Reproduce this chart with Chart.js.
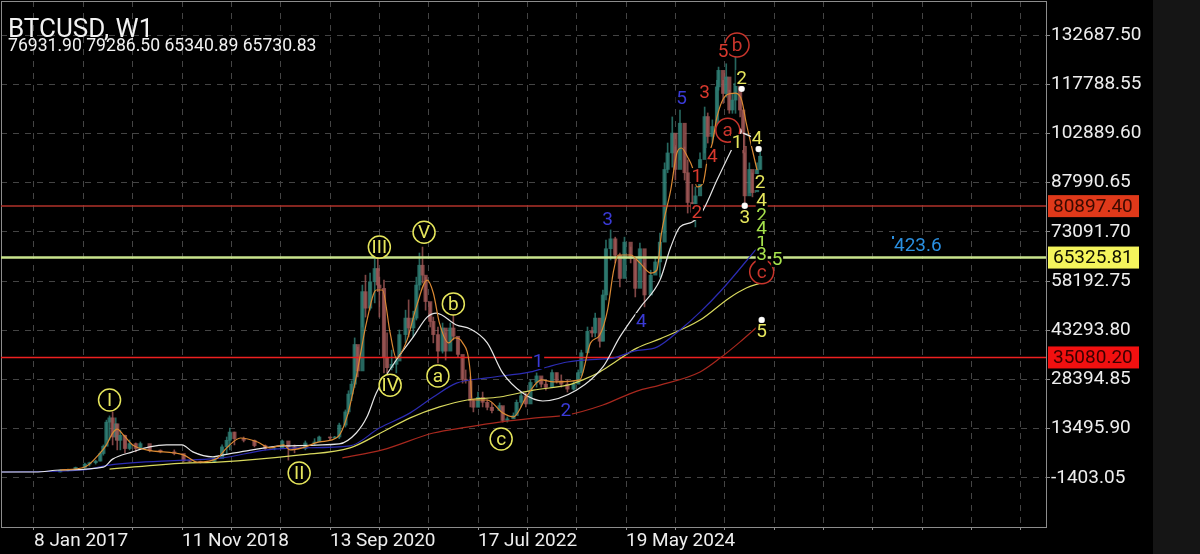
<!DOCTYPE html>
<html>
<head>
<meta charset="utf-8">
<title>BTCUSD, W1</title>
<script src="https://cdn.jsdelivr.net/npm/chart.js@4"></script>
<style>
  html, body { margin: 0; padding: 0; }
  body { width: 1200px; height: 554px; overflow: hidden; background: linear-gradient(to right, #000 1153px, #151515 1153px); }
  canvas { display: block; }
</style>
</head>
<body>
<canvas id="btcChart" width="1200" height="554"></canvas>
<script>
// Weeks are counted from 8 Jan 2017, prices are in thousands of USD unless noted
const xTickWeeks = [0, 32, 64, 96, 128, 160, 192, 224, 256, 288, 320, 352, 384, 416, 448, 480, 512, 544, 576, 608, 640];
const xTickLabels = { 0: '8 Jan 2017', 96: '11 Nov 2018', 192: '13 Sep 2020', 288: '17 Jul 2022', 384: '19 May 2024' };
const yTickValues = [132687.50, 117788.55, 102889.60, 87990.65, 73091.70, 58192.75, 43293.80, 28394.85, 13495.90, -1403.05];

const candleWeeks = [
  17, 22, 27, 33, 36, 40, 43, 45, 47, 49,
  51, 53, 54, 56, 59, 62, 66, 69, 75, 82,
  91, 97, 101, 108, 117, 122, 125, 127, 130, 136,
  143, 150, 156, 161, 165, 169, 176, 182, 185, 192,
  195, 198, 202, 204, 206, 208, 210, 213, 215, 218,
  221, 223, 224, 227, 229, 232, 235, 237, 241, 243,
  246, 248, 250, 252, 254, 257, 259, 262, 265, 267,
  270, 272, 275, 278, 280, 283, 285, 288, 291, 294,
  297, 302, 304, 307, 311, 313, 316, 319, 322, 326,
  329, 332, 336, 339, 342, 346, 350, 353, 355, 359,
  362, 364, 367, 369, 371, 374, 377, 380, 383, 387,
  390, 393, 396, 400, 403, 406, 409, 411, 414, 416,
  419, 422, 424, 427, 429, 432, 435, 437, 440, 443,
  444, 447, 449, 451, 453, 455, 458, 460, 461, 464,
  466, 469, 471
];
const candleHigh = [
  1.0, 1.3, 1.9, 3.1, 3.4, 4.0, 6.5, 8.6, 16.1, 17.4,
  18.6, 16.8, 14.6, 13.1, 11.6, 10.1, 9.2, 9.5, 8.0, 7.1,
  7.1, 5.6, 3.9, 3.7, 4.7, 8.6, 11.0, 13.7, 12.5, 11.0,
  10.1, 8.6, 8.0, 10.1, 8.6, 8.6, 9.8, 10.5, 11.3, 11.0,
  11.2, 15.2, 19.2, 25.0, 28.0, 41.0, 38.2, 57.0, 60.0, 60.6,
  65.0, 65.2, 59.4, 58.5, 42.5, 37.3, 35.2, 43.4, 49.4, 52.5,
  49.1, 59.4, 66.7, 68.5, 59.4, 51.6, 47.3, 44.3, 45.5, 42.5,
  45.5, 47.9, 41.3, 35.2, 31.3, 29.2, 22.2, 24.6, 24.6, 22.2,
  21.3, 21.3, 20.1, 17.1, 18.3, 22.2, 24.3, 24.3, 28.3, 30.4,
  28.9, 28.3, 31.3, 30.4, 29.8, 28.3, 27.7, 31.3, 37.3, 44.3,
  44.3, 48.5, 42.5, 55.5, 70.6, 73.7, 71.5, 66.7, 71.5, 68.5,
  64.6, 69.7, 63.7, 61.5, 65.5, 72.7, 94.0, 100.0, 107.9, 98.8,
  110.0, 98.8, 94.9, 91.8, 86.7, 97.0, 110.9, 109.1, 107.0, 119.0,
  123.0, 119.0, 124.0, 116.0, 115.0, 126.0, 115.0, 110.0, 97.0, 94.0,
  90.9, 94.0, 98.0
];
const candleLow = [
  0.4, 0.7, 1.0, 1.5, 2.2, 2.8, 3.7, 5.5, 10.1, 10.1,
  8.6, 10.1, 7.1, 7.1, 6.2, 7.1, 6.5, 7.7, 6.5, 6.2,
  5.6, 3.4, 3.4, 3.1, 3.4, 5.6, 6.0, 7.1, 8.6, 9.5,
  8.0, 7.1, 7.1, 8.0, 4.0, 6.2, 7.1, 8.5, 9.8, 10.1,
  10.5, 10.5, 14.0, 18.0, 22.0, 26.0, 29.2, 44.3, 47.3, 49.4,
  51.6, 55.0, 47.3, 30.4, 30.4, 31.3, 30.4, 35.2, 39.5, 41.3,
  41.3, 46.4, 55.5, 57.6, 49.4, 44.3, 39.5, 33.4, 36.4, 34.3,
  39.5, 40.4, 35.2, 27.3, 27.3, 20.1, 18.6, 20.1, 20.1, 19.2,
  18.3, 19.2, 15.5, 15.5, 16.8, 18.3, 20.1, 20.1, 25.2, 26.1,
  26.1, 25.2, 26.1, 27.3, 26.1, 24.6, 25.2, 27.3, 29.5, 36.4,
  41.3, 41.3, 38.2, 40.0, 52.5, 64.6, 63.7, 56.4, 64.6, 63.7,
  53.4, 61.5, 50.4, 54.6, 60.6, 59.4, 72.7, 91.0, 92.7, 88.8,
  94.9, 88.8, 78.8, 76.7, 74.6, 86.7, 97.0, 100.0, 100.0, 107.0,
  116.0, 112.0, 113.9, 109.0, 109.0, 109.0, 107.9, 97.0, 81.8, 84.9,
  83.7, 85.8, 92.0
];
const candleClose = [
  0.9, 1.2, 1.8, 2.8, 3.2, 3.7, 6.0, 8.2, 15.5, 16.8,
  11.0, 15.0, 10.0, 11.5, 7.5, 9.0, 7.5, 9.0, 7.0, 6.5,
  6.0, 3.8, 3.6, 3.5, 4.5, 8.0, 10.0, 12.5, 10.5, 10.0,
  8.4, 7.5, 7.5, 9.8, 8.0, 7.5, 9.2, 9.5, 11.0, 10.7,
  11.0, 14.6, 18.6, 24.0, 27.0, 39.0, 31.0, 55.0, 50.0, 58.0,
  62.0, 57.0, 56.0, 35.0, 32.0, 33.0, 34.0, 42.0, 47.0, 44.0,
  47.0, 57.0, 63.0, 60.0, 52.0, 46.0, 42.0, 37.0, 44.0, 37.0,
  44.0, 41.5, 36.0, 28.5, 28.0, 22.0, 20.0, 23.0, 21.5, 20.0,
  19.0, 20.5, 16.0, 16.5, 17.5, 21.5, 23.5, 21.0, 27.5, 29.5,
  27.0, 26.0, 30.5, 28.0, 27.0, 25.5, 27.0, 30.5, 36.5, 43.0,
  42.5, 47.0, 40.0, 54.0, 68.0, 71.0, 66.0, 59.0, 70.0, 65.0,
  56.0, 68.0, 54.0, 60.0, 64.0, 70.0, 92.0, 97.0, 103.0, 92.0,
  106.0, 91.0, 82.0, 79.0, 84.0, 95.0, 108.0, 102.0, 105.0, 117.0,
  122.0, 115.0, 120.0, 110.0, 113.0, 118.0, 110.0, 99.0, 84.0, 92.0,
  85.0, 92.0, 96.0
];

const orangeWeeks = [17, 33, 43, 47, 51, 54, 58, 64, 73, 97, 106, 119, 125, 134, 145, 153, 162, 166, 174, 185, 197, 203, 209, 216, 222, 226, 231, 235, 242, 248, 255, 259, 263, 269, 273, 278, 283, 284, 294, 304, 311, 320, 329, 337, 354, 361, 367, 372, 376, 379, 387, 393, 400, 404, 407, 413, 417, 420, 424, 427, 430, 434, 437, 440, 443, 449, 455, 459, 462, 469];
const orangeValues = [1.0, 1.9, 6.2, 8.6, 12.2, 13.4, 11.6, 8.6, 7.1, 5.6, 3.4, 4.6, 7.7, 10.7, 9.5, 7.7, 8.6, 7.1, 7.7, 9.5, 11.0, 17.1, 29.2, 46.4, 55.5, 55.5, 42.5, 34.9, 40.4, 50.4, 58.5, 54.6, 45.5, 39.5, 41.0, 39.5, 30.4, 22.2, 22.2, 18.3, 17.1, 23.7, 28.3, 27.7, 28.3, 39.5, 41.9, 49.4, 61.5, 66.1, 66.1, 63.7, 60.6, 61.5, 72.7, 85.8, 97.0, 98.5, 95.7, 92.7, 86.7, 87.9, 95.7, 100.0, 107.9, 114.5, 115.1, 113.0, 106.0, 91.8];

const whiteWeeks = [-21, 1, 17, 45, 51, 64, 75, 86, 96, 103, 116, 123, 138, 161, 198, 209, 216, 222, 235, 246, 255, 261, 274, 283, 294, 304, 317, 330, 352, 369, 380, 393, 406, 413, 419, 427, 434, 443, 453];
const whiteValues = [0.4, 0.4, 1.0, 1.9, 4.3, 6.5, 8.0, 8.6, 8.6, 6.5, 5.0, 5.6, 6.8, 8.3, 8.9, 12.2, 17.1, 24.3, 34.3, 41.3, 47.3, 48.5, 44.9, 43.7, 39.5, 30.4, 24.3, 21.9, 25.2, 32.2, 41.3, 50.1, 58.5, 68.5, 74.6, 76.1, 79.7, 88.8, 98.5];

const blueWeeks = [-21, 32, 49, 97, 121, 151, 173, 205, 224, 244, 259, 274, 294, 322, 333, 346, 367, 376, 389, 404, 419, 432, 446, 469];
const blueValues = [0.4, 1.0, 2.5, 4.0, 4.6, 7.1, 7.7, 8.3, 13.7, 18.3, 23.1, 27.3, 28.9, 30.7, 32.2, 33.7, 34.6, 34.9, 37.0, 38.2, 43.4, 48.8, 55.5, 68.2];

const yellowWeeks = [49, 97, 119, 173, 205, 226, 244, 263, 281, 302, 324, 346, 356, 367, 376, 391, 406, 432, 451, 462, 471];
const yellowValues = [1.3, 3.1, 3.4, 5.6, 7.7, 12.5, 16.8, 20.1, 22.2, 23.1, 25.2, 26.7, 28.3, 30.7, 33.4, 37.9, 40.7, 46.4, 53.1, 56.1, 57.6];

const redWeeks = [200, 226, 259, 281, 302, 324, 346, 369, 391, 406, 432, 445, 458, 469];
const redValues = [4.7, 7.1, 12.2, 14.0, 15.5, 16.7, 17.7, 20.7, 24.9, 26.7, 30.7, 34.9, 39.8, 44.3];

const levelPrices = [80897.40, 65325.81, 35080.20];

const dotWeeks = [457, 459, 470, 461, 472];
const dotValues = [103.6, 116.4, 98.2, 81.0, 46.4];
const connectorWeeks = [460, 466];
const connectorValues = [103.0, 101.8];

// Wave counts
const labelTexts = ['I', 'II', 'III', 'IV', 'V', 'a', 'b', 'c', 'a', 'b', 'c',
  '5', '3', '4', '1', '2',
  '5', '3', '4', '1', '2',
  '2', '1', '4', '2', '4', '3', '5',
  '2', '1', '4', '3', '5'];
const labelWeeks = [49, 172, 224, 231, 253, 262, 272, 303, 450, 456, 472,
  447, 435, 440, 430, 430,
  420, 372, 394, 327, 345,
  459, 456, 469, 471, 472, 461, 472,
  472, 472, 472, 472, 482];
const labelValues = [22.2, 0.1, 68.5, 26.7, 73.0, 29.5, 51.3, 10.4, 103.9, 129.7, 61.0,
  127.8, 115.4, 96.1, 90.0, 79.1,
  113.6, 77.0, 46.1, 34.0, 19.2,
  119.7, 100.3, 101.5, 88.2, 82.7, 77.6, 43.1,
  78.2, 70.0, 74.3, 66.4, 64.9];
const labelKinds = ['yc', 'yc', 'yc', 'yc', 'yc', 'yc', 'yc', 'yc', 'rc', 'rc', 'rc',
  'r', 'r', 'r', 'r', 'r',
  'b', 'b', 'b', 'b', 'b',
  'y', 'y', 'y', 'y', 'y', 'y', 'y',
  'g', 'g', 'g', 'g', 'g'];

const labelColors = { yc: '#e6e65c', y: '#e6e65c', rc: '#c9352c', r: '#d8392e', b: '#3a3ad6', g: '#a6e24c' };
const levelColors = ['#b0322a', '#c9e38c', '#ee2020'];
const levelWidths = [1.5, 2.5, 1.5];
const tagFills = ['#e0391a', '#f4f45c', '#f21010'];
const tagInks = ['#3c0a00', '#101000', '#3c0000'];

const FONT = 'Roboto, sans-serif';
const toPoints = (weeks, values) => weeks.map((w, i) => ({ x: w, y: values[i] * 1000 }));

function lineDataset(weeks, values, color, order) {
    return {
        type: 'line',
        data: toPoints(weeks, values),
        borderColor: color,
        borderWidth: 1.2,
        pointRadius: 0,
        cubicInterpolationMode: 'monotone',
        order
    };
}

// Axis label overhang must not shrink the plot area, the frame stays at fixed edges
function clearAxisPadding(axis) {
    axis.paddingLeft = 0;
    axis.paddingRight = 0;
    axis.paddingTop = 0;
    axis.paddingBottom = 0;
}

const isUp = (i) => i === 0 || candleClose[i] >= candleClose[i - 1];
const upColor = 'rgba(48, 128, 118, 0.8)';
const downColor = 'rgba(160, 88, 86, 0.8)';

// Chart furniture that has no Chart.js equivalent: frame, titles, wave counts, price tags
const overlayPlugin = {
    id: 'overlay',
    beforeDatasetsDraw(chart) {
        const { ctx, chartArea: a } = chart;
        ctx.save();
        ctx.strokeStyle = '#8c8c8c';
        ctx.lineWidth = 1;
        ctx.strokeRect(a.left + 0.5, a.top + 0.5, a.right - a.left, a.bottom - a.top);
        ctx.restore();
    },
    afterDatasetsDraw(chart) {
        const { ctx, scales: { x, y } } = chart;
        ctx.save();

        labelTexts.forEach((text, i) => {
            const px = x.getPixelForValue(labelWeeks[i]);
            const py = y.getPixelForValue(labelValues[i] * 1000);
            const kind = labelKinds[i];
            const color = labelColors[kind];
            ctx.font = '19px ' + FONT;
            ctx.textAlign = 'center';
            ctx.textBaseline = 'middle';
            if (kind === 'yc' || kind === 'rc') {
                ctx.beginPath();
                ctx.arc(px, py, kind === 'yc' ? 11 : 12, 0, Math.PI * 2);
                ctx.fillStyle = '#000';
                ctx.fill();
                ctx.lineWidth = 1.5;
                ctx.strokeStyle = color;
                ctx.stroke();
            } else {
                ctx.fillStyle = '#000';
                ctx.fillRect(px - 6, py - 8, 12, 16);
            }
            ctx.fillStyle = color;
            ctx.fillText(text, px, py + 1);
        });

        // fibonacci text sitting on the support line
        ctx.fillStyle = '#000';
        ctx.fillRect(893, 235, 49, 21);
        ctx.fillStyle = '#2a8fe0';
        ctx.font = '19px ' + FONT;
        ctx.textAlign = 'left';
        ctx.fillText('423.6', 894, 246);
        ctx.fillRect(892, 236, 2, 3);

        // level tags on the price axis
        levelPrices.forEach((price, i) => {
            const py = y.getPixelForValue(price);
            ctx.fillStyle = tagFills[i];
            ctx.fillRect(1048, py - 11, 91, 22);
            ctx.fillStyle = tagInks[i];
            ctx.font = '19px ' + FONT;
            ctx.textAlign = 'left';
            ctx.fillText(price.toFixed(2), 1053, py + 1);
        });

        ctx.fillStyle = '#f2f2f2';
        ctx.textBaseline = 'alphabetic';
        ctx.font = '26px ' + FONT;
        ctx.fillText('BTCUSD, W1', 8, 37);
        ctx.font = '17.6px ' + FONT;
        ctx.fillText('76931.90 79286.50 65340.89 65730.83', 8, 51);
        ctx.restore();
    }
};

new Chart(document.getElementById('btcChart'), {
    data: {
        datasets: [
            // wicks, then bodies
            {
                type: 'bar',
                data: candleWeeks.map((w, i) => ({ x: w, y: [candleLow[i] * 1000, candleHigh[i] * 1000] })),
                backgroundColor: candleWeeks.map((w, i) => isUp(i) ? upColor : downColor),
                barThickness: 1,
                grouped: false,
                order: 20
            },
            {
                type: 'bar',
                data: candleWeeks.map((w, i) => ({
                    x: w,
                    y: [(i ? candleClose[i - 1] : candleLow[i]) * 1000, candleClose[i] * 1000]
                })),
                backgroundColor: candleWeeks.map((w, i) => isUp(i) ? upColor : downColor),
                barThickness: 3.5,
                grouped: false,
                order: 19
            },
            ...levelPrices.map((price, i) => ({
                type: 'line',
                data: [{ x: -22, y: price }, { x: 657, y: price }],
                borderColor: levelColors[i],
                borderWidth: levelWidths[i],
                pointRadius: 0,
                order: 10
            })),
            lineDataset(redWeeks, redValues, '#a8281e', 6),
            lineDataset(yellowWeeks, yellowValues, '#d9d95e', 5),
            lineDataset(blueWeeks, blueValues, '#2c2cb4', 4),
            lineDataset(whiteWeeks, whiteValues, '#e6e6e6', 3),
            lineDataset(orangeWeeks, orangeValues, '#dc8a34', 2),
            {
                type: 'line',
                data: toPoints(connectorWeeks, connectorValues),
                borderColor: '#f0f0f0',
                borderWidth: 1.5,
                pointRadius: 0,
                order: 1
            },
            {
                type: 'scatter',
                data: toPoints(dotWeeks, dotValues),
                backgroundColor: '#ffffff',
                pointRadius: 3.2,
                order: 0
            }
        ]
    },
    options: {
        responsive: false,
        animation: false,
        layout: { autoPadding: false, padding: { left: 1, top: 1 } },
        plugins: { legend: { display: false }, tooltip: { enabled: false } },
        scales: {
            x: {
                type: 'linear',
                offset: false,
                min: -21.4,
                max: 656.4,
                afterBuildTicks: (axis) => { axis.ticks = xTickWeeks.map((value) => ({ value })); },
                afterFit: (axis) => { axis.height = 27; clearAxisPadding(axis); },
                grid: { color: '#444444', tickColor: '#8c8c8c', tickBorderDash: [], tickLength: 3, offset: false },
                border: { dash: [6, 6], display: false },
                ticks: {
                    color: '#eeeeee',
                    font: { family: FONT, size: 19 },
                    align: 'start',
                    autoSkip: false,
                    maxRotation: 0,
                    padding: 0,
                    callback: (value) => xTickLabels[value] || ''
                }
            },
            y: {
                type: 'linear',
                position: 'right',
                min: -16250,
                max: 143000,
                afterBuildTicks: (axis) => { axis.ticks = yTickValues.map((value) => ({ value })); },
                afterFit: (axis) => { axis.width = 154; clearAxisPadding(axis); },
                grid: { color: '#444444', tickColor: '#8c8c8c', tickBorderDash: [], tickLength: 4 },
                border: { dash: [6, 6], display: false },
                ticks: {
                    color: '#eeeeee',
                    font: { family: FONT, size: 19 },
                    padding: 1,
                    callback: (value) => value.toFixed(2)
                }
            }
        }
    },
    plugins: [overlayPlugin]
});
</script>
</body>
</html>
